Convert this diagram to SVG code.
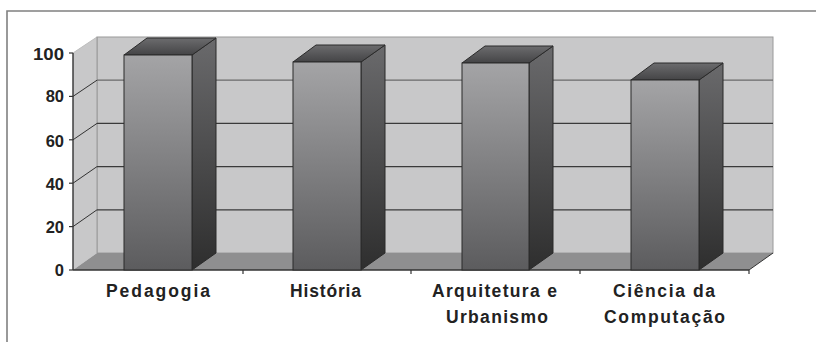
<svg xmlns="http://www.w3.org/2000/svg" width="816" height="342" viewBox="0 0 816 342">
<defs>
<linearGradient id="gFront" x1="0" y1="0" x2="0" y2="1">
<stop offset="0" stop-color="#a4a4a6"/>
<stop offset="1" stop-color="#5c5c5e"/>
</linearGradient>
<linearGradient id="gSide" x1="0" y1="0" x2="0" y2="1">
<stop offset="0" stop-color="#6a6a6c"/>
<stop offset="1" stop-color="#2e2e2e"/>
</linearGradient>
<linearGradient id="gTop" x1="0" y1="0" x2="0" y2="1">
<stop offset="0" stop-color="#6c6c6e"/>
<stop offset="1" stop-color="#444446"/>
</linearGradient>
<style>
.lbl{font-family:"Liberation Sans",Arial,sans-serif;font-weight:bold;font-size:17.5px;fill:#222}
.ylbl{font-family:"Liberation Sans",Arial,sans-serif;font-weight:bold;font-size:16.5px;fill:#222;text-anchor:end}
.grid{stroke:#3a3a3a;stroke-width:1.3;fill:none}
.diag{stroke:#333;stroke-width:1;fill:none}
.tick{stroke:#333;stroke-width:1.2}
.front{fill:url(#gFront);stroke:#2a2a2a;stroke-width:1}
.side{fill:url(#gSide);stroke:#2a2a2a;stroke-width:1}
.top{fill:url(#gTop);stroke:#2a2a2a;stroke-width:1}
</style>
</defs>
<rect width="816" height="342" fill="#ffffff"/>
<!-- outer frame -->
<path d="M7,342 V11 H816" fill="none" stroke="#808080" stroke-width="1.6"/>
<g id="plot-area">
<!-- back wall -->
<rect x="97" y="37" width="676" height="216" fill="#c8c8c9" stroke="#9a9a9a" stroke-width="1"/>
<!-- side wall -->
<polygon points="73,53 97,37 97,253 73,270" fill="#c8c8c9"/>
<line x1="73" y1="53" x2="97" y2="37" stroke="#bdbdbd" stroke-width="1"/>
<line x1="97" y1="37" x2="97" y2="253" stroke="#9a9a9a" stroke-width="1"/>
<!-- gridlines -->
<g class="grid">
<line x1="97" y1="80.2" x2="773" y2="80.2" stroke="#6a6a6a"/>
<line x1="97" y1="123.4" x2="773" y2="123.4"/>
<line x1="97" y1="166.6" x2="773" y2="166.6"/>
<line x1="97" y1="209.8" x2="773" y2="209.8"/>
</g>
<g class="diag">
<line x1="73" y1="96.4" x2="97" y2="80.2"/>
<line x1="73" y1="139.8" x2="97" y2="123.4"/>
<line x1="73" y1="183.2" x2="97" y2="166.6"/>
<line x1="73" y1="226.6" x2="97" y2="209.8"/>
</g>
<!-- floor -->
<polygon points="73,270 97,253 773,253 749,270" fill="#8f8f90"/>
<line x1="749" y1="270" x2="773" y2="253" stroke="#333" stroke-width="1"/>
</g>
<g id="axes">
<line x1="73" y1="53" x2="73" y2="270" stroke="#333" stroke-width="1.4"/>
<line x1="73" y1="270" x2="749" y2="270" stroke="#333" stroke-width="1.4"/>
<g class="tick">
<line x1="69" y1="53" x2="73" y2="53"/>
<line x1="69" y1="96.4" x2="73" y2="96.4"/>
<line x1="69" y1="139.8" x2="73" y2="139.8"/>
<line x1="69" y1="183.2" x2="73" y2="183.2"/>
<line x1="69" y1="226.6" x2="73" y2="226.6"/>
<line x1="69" y1="270" x2="73" y2="270"/>
<line x1="243" y1="270" x2="243" y2="274"/>
<line x1="411" y1="270" x2="411" y2="274"/>
<line x1="580" y1="270" x2="580" y2="274"/>
<line x1="749" y1="270" x2="749" y2="274"/>
</g>
<text class="ylbl" x="64" y="59.5" textLength="31" lengthAdjust="spacingAndGlyphs">100</text>
<text class="ylbl" x="64" y="101.5">80</text>
<text class="ylbl" x="64" y="146.5">60</text>
<text class="ylbl" x="64" y="189.5">40</text>
<text class="ylbl" x="64" y="233.3">20</text>
<text class="ylbl" x="64" y="276">0</text>
</g>
<g id="bar-pedagogia">
<polygon class="side" points="192,55 216,38 216,253 192,270"/>
<polygon class="top" points="124,55 147,38 216,38 192,55"/>
<rect class="front" x="124" y="55" width="68" height="215"/>
</g>
<g id="bar-historia">
<polygon class="side" points="361,62 385,45 385,253 361,270"/>
<polygon class="top" points="293,62 316,45 385,45 361,62"/>
<rect class="front" x="293" y="62" width="68" height="208"/>
</g>
<g id="bar-arquitetura">
<polygon class="side" points="529,63 553,46 553,253 529,270"/>
<polygon class="top" points="462,63 485,46 553,46 529,63"/>
<rect class="front" x="462" y="63" width="67" height="207"/>
</g>
<g id="bar-ciencia">
<polygon class="side" points="699,80 723,63 723,253 699,270"/>
<polygon class="top" points="631,80 654,63 723,63 699,80"/>
<rect class="front" x="631" y="80" width="68" height="190"/>
</g>
<g id="category-labels">
<text class="lbl" x="106" y="297" textLength="104" lengthAdjust="spacing">Pedagogia</text>
<text class="lbl" x="290" y="297" textLength="71" lengthAdjust="spacing">História</text>
<text class="lbl" x="432" y="297" textLength="125" lengthAdjust="spacing">Arquitetura e</text>
<text class="lbl" x="446" y="323" textLength="102" lengthAdjust="spacing">Urbanismo</text>
<text class="lbl" x="613" y="297" textLength="102" lengthAdjust="spacing">Ciência da</text>
<text class="lbl" x="604" y="323" textLength="121" lengthAdjust="spacing">Computação</text>
</g>
</svg>
